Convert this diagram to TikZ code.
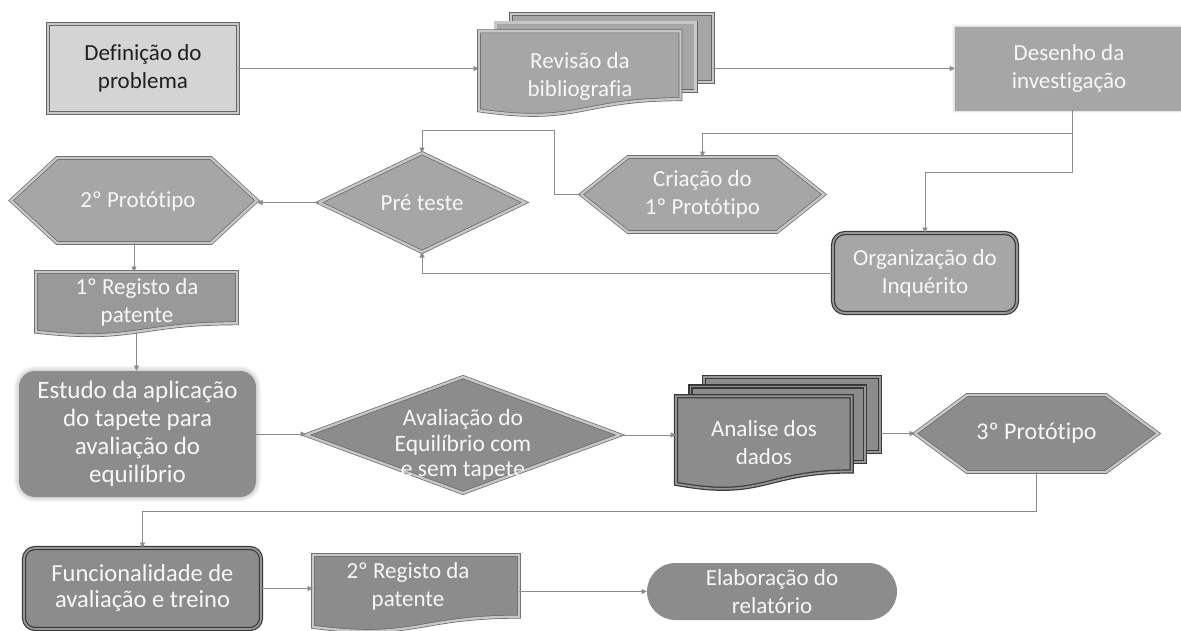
\documentclass[tikz,border=0pt]{standalone}
\usepackage{fontspec}
\setmainfont{Carlito}[Ligatures=NoCommon]
\usetikzlibrary{arrows.meta,shapes.misc,calc,backgrounds}

\definecolor{conncol}{gray}{0.55}
\definecolor{lightfill}{gray}{0.83}
\definecolor{midfill}{gray}{0.65}
\definecolor{regfill}{gray}{0.60}
\definecolor{darkfill}{gray}{0.55}
\definecolor{edgecol}{gray}{0.40}
\definecolor{bandcol}{gray}{0.78}
\definecolor{txtlight}{gray}{0.97}

% flowchart document shape drawn inside the box of node #1 (size #2 x #3)
\newcommand\docat[4]{%
  \path[#4, shift={(#1.north west)}, x=#2pt, y=-#3pt]
    (0,0) -- (1,0) -- (1,0.802) .. controls (0.5,0.802) and (0.5,1.107) .. (0,0.934) -- cycle;}
% stacked documents
\newcommand\multidocat[4]{%
  \path[#4, shift={(#1.north west)}, x=#2pt, y=-#3pt] (0.1376,0) rectangle (1,0.666);
  \path[#4, shift={(#1.north west)}, x=#2pt, y=-#3pt] (0.0709,0.084) rectangle (0.926,0.752);
  \path[#4, shift={(#1.north west)}, x=#2pt, y=-#3pt]
    (0,0.17) -- (0.861,0.17) -- (0.861,0.836) .. controls (0.43,0.836) and (0.43,1.089) .. (0,0.945) -- cycle;}
% elongated hexagon with slanted ends of width #2
\newcommand\hexat[3]{%
  \path[#3] (#1.west) -- ([xshift=#2]#1.north west) -- ([xshift=-#2]#1.north east) -- (#1.east)
    -- ([xshift=-#2]#1.south east) -- ([xshift=#2]#1.south west) -- cycle;}
% decision diamond
\newcommand\diamat[2]{%
  \path[#2] (#1.west) -- (#1.north) -- (#1.east) -- (#1.south) -- cycle;}

\begin{document}
\begin{tikzpicture}[x=1pt,y=-1pt,
  conn/.style={draw=conncol, line width=0.9pt, -{Triangle[length=5.5pt,width=5pt]}},
  frame/.style={rectangle, inner sep=0pt, outer sep=0pt, align=center, text=txtlight,
    font=\fontsize{23pt}{28pt}\selectfont},
  bevel/.style={fill=#1, draw=edgecol, line width=0.7pt, double=bandcol, double distance=2.4pt},
  heavy/.style={fill=#1, draw=gray!45!black, line width=1.2pt, double=gray!82, double distance=1.8pt},
]
\useasboundingbox (0,0) rectangle (1181,630);

% ---- first row
\node[frame, bevel=lightfill, text=black!88, minimum width=190pt, minimum height=89pt] (def) at (143,68.5) {Definição do\\problema};
\node[frame, minimum width=234pt, minimum height=102pt] (rev) at (596,65) {};
\node[frame] (revtxt) at (580,76) {Revisão da\\bibliografia};
\node[frame, fill=midfill, draw=gray!70, line width=0.6pt, minimum width=228pt, minimum height=83pt] (des) at (1069,68.5) {Desenho da\\investigação};

% ---- second row
\node[frame, minimum width=246pt, minimum height=85pt] (p2) at (134,200.5) {};
\node[frame] (p2txt) at (138,201) {2º Protótipo};
\node[frame, minimum width=206pt, minimum height=99pt] (pre) at (422,202.5) {Pré teste};
\node[frame, minimum width=243pt, minimum height=75pt] (cri) at (702.5,194.5) {Criação do\\1º Protótipo};
\node[frame, heavy=midfill, rounded corners=12pt, minimum width=184pt, minimum height=80pt] (org) at (925,273) {Organização do\\Inquérito};
\node[frame, minimum width=201pt, minimum height=64pt] (reg1) at (136.5,304) {};
\node[frame] (reg1txt) at (137,302) {1º Registo da\\patente};

% ---- third row
\node[frame, fill=darkfill, rounded corners=16pt, minimum width=237pt, minimum height=126pt, font=\fontsize{25pt}{28pt}\selectfont] (est) at (137.5,434) {Estudo da aplicação\\do tapete para\\avaliação do\\equilíbrio};
\node[frame, minimum width=314pt, minimum height=116pt] (ava) at (463,435) {};
\node[frame, font=\fontsize{23.5pt}{25.5pt}\selectfont] (avatxt) at (463,445) {Avaliação do\\Equilíbrio com\\e sem tapete};
\node[frame, minimum width=204pt, minimum height=113pt] (ana) at (778,433.5) {};
\node[frame] (anatxt) at (764,443) {Analise dos\\dados};
\node[frame, minimum width=243pt, minimum height=77pt, font=\fontsize{24pt}{28pt}\selectfont] (p3) at (1036.5,433.5) {3º Protótipo};

% ---- last row
\node[frame, heavy=darkfill, rounded corners=11pt, minimum width=237pt, minimum height=81pt, font=\fontsize{24.5pt}{26pt}\selectfont] (fun) at (142.5,588.5) {Funcionalidade de\\avaliação e treino};
\node[frame, minimum width=206pt, minimum height=77pt] (reg2) at (416,593.5) {};
\node[frame] (reg2txt) at (408,586) {2º Registo da\\patente};
\node[frame, shape=rounded rectangle, fill=darkfill, minimum width=250pt, minimum height=57pt] (ela) at (772,591.5) {Elaboração do\\relatório};

% ---- outlines behind the texts
\begin{scope}[on background layer]
  \foreach \g in {1,...,4}
    \draw[gray, opacity=0.07, line width=\g*1.5pt] (des.north west) rectangle (des.south east);
  \foreach \g in {1,...,5}
    \draw[gray, opacity=0.07, line width=\g*2pt, rounded corners=16pt] (est.north west) rectangle (est.south east);
  \multidocat{rev}{234}{102}{bevel=midfill}
  \hexat{p2}{46pt}{bevel=midfill}
  \diamat{pre}{bevel=midfill}
  \hexat{cri}{47pt}{bevel=midfill}
  \docat{reg1}{201}{64}{bevel=regfill}
  \diamat{ava}{bevel=darkfill}
  \multidocat{ana}{204}{113}{heavy=darkfill}
  \hexat{p3}{52pt}{bevel=darkfill}
  \docat{reg2}{206}{77}{bevel=darkfill}
\end{scope}

% ---- junctions of the branching lines
\coordinate (j1) at (1072,133);
\coordinate (j2) at (1072,172);
\coordinate (j3) at (554,130);
\coordinate (j4) at (1036.5,511);

% ---- connectors
\draw[conn] (def.east) -- (def.east -| rev.west);
\draw[conn] (des.west -| rev.east) -- (des.west);
\draw[conn] ([xshift=3pt]des.south) -- (j1) -| (cri.north);
\draw[conn] (j1) -- (j2) -| (org.north);
\draw[conn] (cri.west) -| (j3) -| (pre.north);
\draw[conn] (org.west) -| (pre.south);
\draw[conn] (pre.west) -- (pre.west -| p2.east);
\draw[conn] (p2.south) -- (p2.south |- reg1.north);
\draw[conn] ([yshift=4pt]reg1.south) -- (reg1.south |- est.north);
\draw[conn] (est.east) -- (est.east -| ava.west);
\draw[conn] (ava.east) -- (ava.east -| ana.west);
\draw[conn] (ana.east) -- (ana.east -| p3.west);
\draw[conn] (p3.south) -- (j4) -| (fun.north);
\draw[conn] (fun.east) -- (fun.east -| reg2.west);
\draw[conn] (ela.west -| reg2.east) -- (ela.west);
\end{tikzpicture}
\end{document}
